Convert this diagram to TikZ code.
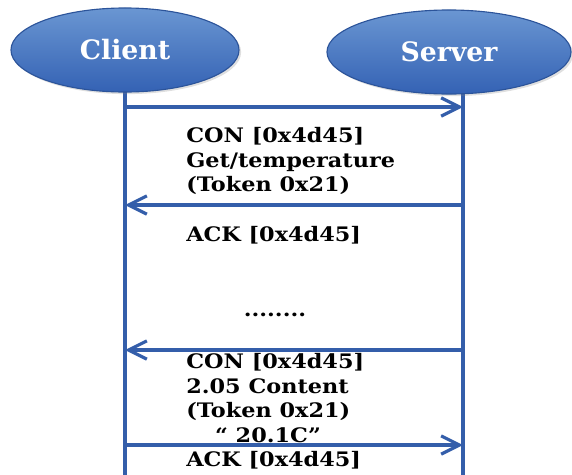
\documentclass[tikz,border=0pt]{standalone}
\usepackage{fontspec}
\setmainfont{DejaVu Serif}
\newfontfamily\msgfont[FakeStretch=1.12]{DejaVu Serif}
\usepackage{tikz}
\usetikzlibrary{shapes.geometric, arrows.meta, positioning, shadows}
\definecolor{lineblue}{RGB}{52,94,170}
\definecolor{ovaltop}{RGB}{106,150,210}
\definecolor{ovalbottom}{RGB}{52,98,180}
\definecolor{ovaldraw}{RGB}{44,84,154}

\begin{document}
\begin{tikzpicture}[
    x=0.025cm, y=-0.025cm,
    party/.style={ellipse, draw=ovaldraw, thick, top color=ovaltop,
                 bottom color=ovalbottom, text=white, inner sep=0pt,
                 minimum height=2.1cm, font=\bfseries\fontsize{19}{22}\selectfont,
                 drop shadow={opacity=0.25, shadow xshift=1.5pt, shadow yshift=-1.5pt}},
    lifeline/.style={draw=lineblue, line width=2.8pt},
    msg/.style={draw=lineblue, line width=2.3pt,
                 -{Straight Barb[length=13pt, width=13pt, line width=2.3pt]}},
    msgtext/.style={anchor=west, align=left, inner sep=0pt,
                 font=\msgfont\bfseries\fontsize{14.2}{17.4}\selectfont}
]
\useasboundingbox (0,0) rectangle (572,474);

\coordinate (clienttop) at (125,60);
\coordinate (clientbot) at (125,480);
\coordinate (servertop) at (463,60);
\coordinate (serverbot) at (463,480);
\draw[lifeline] (clienttop) -- (clientbot);
\draw[lifeline] (servertop) -- (serverbot);

\node[party, minimum width=5.7cm] (client) at (125,50) {Client};
\node[party, minimum width=6.1cm] (server) at (449,52) {Server};

\coordinate (c1) at (125,107);
\coordinate (s1) at (463,107);
\coordinate (s2) at (463,205);
\coordinate (c2) at (125,205);
\coordinate (s3) at (463,350);
\coordinate (c3) at (125,350);
\coordinate (c4) at (125,445);
\coordinate (s4) at (463,445);

\node[msgtext] (conget) at (186,161) {CON [0x4d45]\\Get/temperature\\(Token 0x21)};
\node[msgtext] (ackone) at (186,235) {ACK [0x4d45]};
\node[msgtext, anchor=center] (gap) at (275,315) {........};
\node[msgtext] (concontent) at (186,398) {CON [0x4d45]\\2.05 Content\\(Token 0x21)\\\hspace*{0.72cm}“ 20.1C”};
\node[msgtext] (acktwo) at (186,460) {ACK [0x4d45]};

\draw[msg] (c1) -- (s1);
\draw[msg] (s2) -- (c2);
\draw[msg] (s3) -- (c3);
\draw[msg] (c4) -- (s4);
\end{tikzpicture}
\end{document}
